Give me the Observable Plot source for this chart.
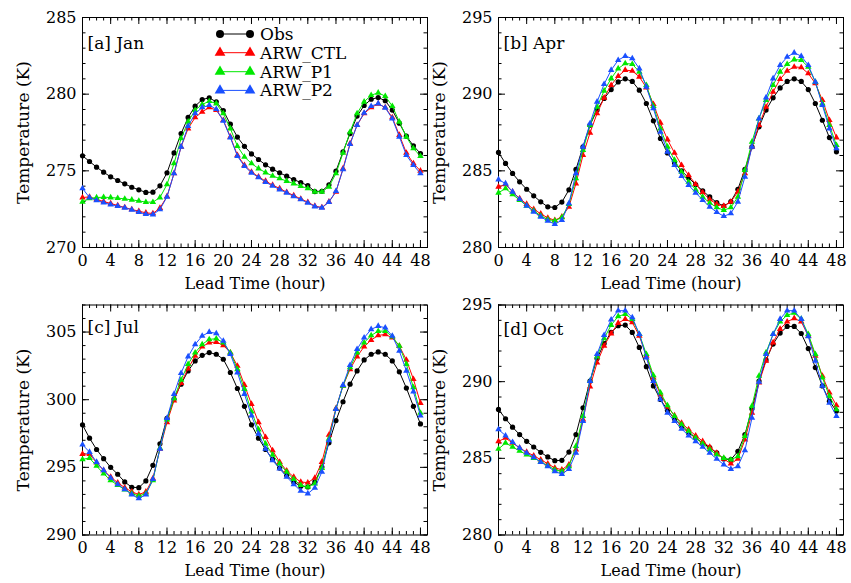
<!DOCTYPE html>
<html><head><meta charset="utf-8">
<script src="https://cdn.jsdelivr.net/npm/d3@7"></script>
<script src="https://cdn.jsdelivr.net/npm/@observablehq/plot@0.6"></script>
<style>
body{margin:0;background:#fff}
#wrap{position:relative;width:851px;height:583px;font-family:"DejaVu Serif",serif;overflow:hidden}
.panel{position:absolute}
</style>
</head><body><div id="wrap"></div>
<script>
const hours = [0,1,2,3,4,5,6,7,8,9,10,11,12,13,14,15,16,17,18,19,20,21,22,23,24,25,26,27,28,29,30,31,32,33,34,35,36,37,38,39,40,41,42,43,44,45,46,47,48];
const xMajor = [0,4,8,12,16,20,24,28,32,36,40,44,48];
const seriesNames = ["Obs","ARW_CTL","ARW_P1","ARW_P2"];
const seriesColors = ["#000000","#ff0000","#00e800","#1a50ff"];

// [a] Jan
const janObs = [275.98,275.61,275.24,274.91,274.61,274.37,274.15,273.93,273.76,273.59,273.61,274.02,274.87,276.17,277.43,278.48,279.22,279.65,279.76,279.5,278.93,278.04,277.2,276.6,276.1,275.74,275.39,275.11,274.87,274.65,274.43,274.24,274.04,273.65,273.67,274.09,274.98,276.24,277.43,278.57,279.26,279.67,279.78,279.57,278.96,278.11,277.26,276.63,276.13];
const janCTL = [273.26,273.3,273.13,273.0,272.87,272.74,272.61,272.48,272.37,272.26,272.22,272.57,273.33,274.83,276.57,277.76,278.48,278.85,279.13,278.96,278.3,277.22,276.02,275.37,274.93,274.61,274.33,274.07,273.85,273.61,273.39,273.17,272.96,272.7,272.61,272.98,273.63,275.15,276.78,277.98,278.74,279.13,279.37,279.13,278.48,277.33,276.17,275.48,275.0];
const janP1 = [272.98,273.2,273.26,273.28,273.26,273.22,273.17,273.11,273.04,272.96,272.96,273.26,274.11,275.48,277.11,278.2,278.96,279.33,279.54,279.39,278.74,277.76,276.61,275.91,275.48,275.15,274.89,274.67,274.5,274.33,274.17,274.0,273.85,273.63,273.63,273.96,274.83,276.17,277.54,278.74,279.5,279.93,280.09,279.87,279.22,278.2,277.22,276.46,275.96];
const janP2 = [273.85,273.26,273.07,272.93,272.8,272.7,272.59,272.46,272.3,272.17,272.15,272.48,273.3,274.83,276.57,277.91,278.74,279.13,279.28,279.02,278.26,277.17,275.96,275.3,274.87,274.57,274.26,274.02,273.78,273.57,273.33,273.13,272.91,272.67,272.59,272.96,273.67,275.09,276.74,277.98,278.78,279.22,279.39,279.11,278.41,277.22,276.02,275.37,274.83];

// [b] Apr
const aprObs = [286.2,285.48,284.83,284.28,283.8,283.37,282.98,282.65,282.61,282.96,283.76,285.09,286.57,287.98,288.96,289.72,290.3,290.8,291.0,290.83,290.26,289.39,288.26,287.11,286.17,285.52,285.0,284.54,284.11,283.7,283.3,282.93,282.7,283.0,283.8,285.09,286.57,287.87,288.96,289.76,290.41,290.83,291.0,290.83,290.3,289.39,288.3,287.17,286.24];
const aprCTL = [283.96,284.11,283.63,283.2,282.83,282.5,282.2,281.93,281.78,282.0,282.65,284.17,286.02,287.48,288.74,289.76,290.59,291.17,291.57,291.52,291.13,290.43,289.35,288.13,287.04,286.17,285.37,284.72,284.13,283.59,283.13,282.83,282.7,282.98,283.63,284.83,286.57,287.98,289.17,290.15,290.98,291.52,291.78,291.74,291.35,290.7,289.61,288.3,287.17];
const aprP1 = [283.57,283.85,283.46,283.09,282.72,282.39,282.07,281.83,281.74,281.96,282.83,284.5,286.35,287.98,289.17,290.22,291.02,291.67,292.0,291.96,291.46,290.59,289.22,287.76,286.57,285.7,284.93,284.28,283.78,283.3,282.91,282.61,282.43,282.61,283.3,285.04,286.89,288.41,289.61,290.59,291.46,291.96,292.26,292.22,291.78,290.8,289.39,287.98,286.67];
const aprP2 = [284.43,284.17,283.63,283.15,282.72,282.33,282.0,281.74,281.52,281.78,282.87,284.83,286.57,288.09,289.5,290.65,291.57,292.22,292.48,292.33,291.67,290.48,289.07,287.54,286.24,285.37,284.65,284.07,283.57,283.09,282.65,282.3,282.04,282.22,282.98,284.61,286.57,288.41,289.78,291.02,291.89,292.43,292.7,292.48,291.89,290.8,289.28,287.76,286.46];

// [c] Jul
const julObs = [298.14,297.16,296.32,295.64,295.0,294.49,293.92,293.53,293.5,294.0,295.15,296.74,298.63,300.05,301.15,302.13,302.87,303.28,303.48,303.36,302.99,302.01,300.83,299.51,298.14,297.16,296.32,295.59,294.95,294.41,293.92,293.6,293.55,293.92,295.02,296.81,298.46,299.85,301.15,302.13,302.94,303.36,303.53,303.36,302.87,302.06,300.86,299.51,298.21];
const julCTL = [295.98,295.98,295.34,294.78,294.29,293.87,293.5,293.19,292.99,293.19,294.17,296.37,298.33,299.93,301.23,302.3,303.24,303.92,304.22,304.26,304.02,303.48,302.5,301.08,299.68,298.33,297.23,296.25,295.39,294.75,294.29,293.92,293.87,294.22,295.39,297.4,299.36,301.03,302.25,303.19,303.92,304.41,304.75,304.83,304.58,303.97,302.94,301.52,299.75];
const julP1 = [295.59,295.69,295.1,294.53,294.04,293.68,293.36,293.06,292.89,293.06,294.04,296.42,298.53,300.1,301.47,302.62,303.48,304.09,304.46,304.51,304.22,303.48,302.25,300.78,299.12,297.79,296.74,295.93,295.27,294.66,294.12,293.68,293.55,293.8,294.95,297.11,299.31,301.03,302.38,303.48,304.22,304.75,305.07,305.07,304.66,303.97,302.62,300.91,299.02];
const julP2 = [296.67,296.13,295.39,294.78,294.22,293.75,293.38,292.99,292.7,292.99,294.12,296.37,298.63,300.42,301.96,303.19,304.09,304.71,305.0,304.9,304.34,303.36,302.01,300.42,298.82,297.48,296.37,295.51,294.9,294.29,293.75,293.26,293.06,293.48,294.66,296.99,299.31,301.08,302.55,303.73,304.58,305.2,305.44,305.32,304.71,303.6,302.13,300.59,298.82];

// [d] Oct
const octObs = [288.19,287.58,287.03,286.55,286.11,285.74,285.39,285.09,284.85,284.87,285.41,286.55,288.3,290.04,291.51,292.49,293.21,293.65,293.69,293.21,292.23,290.98,289.72,288.84,288.14,287.58,287.1,286.66,286.33,286.0,285.7,285.35,284.96,284.91,285.46,286.55,288.23,290.04,291.42,292.45,293.17,293.6,293.6,293.14,292.16,290.92,289.72,288.73,288.08];
const octCTL = [286.11,286.33,286.0,285.68,285.41,285.17,284.91,284.65,284.37,284.26,284.59,285.57,287.53,289.67,291.24,292.34,293.14,293.82,294.08,293.86,292.99,291.68,290.26,289.17,288.36,287.79,287.31,286.88,286.48,286.11,285.74,285.35,284.96,284.65,284.96,286.22,287.97,289.93,291.35,292.55,293.43,293.91,294.13,293.91,292.99,291.68,290.37,289.28,288.45];
const octP1 = [285.61,286.0,285.74,285.48,285.24,285.02,284.78,284.52,284.26,284.15,284.48,285.79,287.75,290.04,291.64,292.82,293.69,294.26,294.41,294.08,293.1,291.79,290.41,289.28,288.45,287.75,287.21,286.77,286.33,285.96,285.57,285.24,285.02,284.91,285.13,286.44,288.41,290.37,291.9,293.1,293.91,294.34,294.48,294.08,293.1,291.79,290.26,289.06,288.19];
const octP2 = [286.88,286.48,286.05,285.68,285.35,285.07,284.76,284.48,284.15,283.97,284.3,285.35,287.42,290.04,291.79,293.03,294.04,294.63,294.63,294.19,293.1,291.57,290.04,288.84,287.97,287.42,286.92,286.48,286.11,285.74,285.35,284.96,284.59,284.3,284.48,285.52,287.64,289.98,291.79,293.1,294.08,294.63,294.63,294.08,292.95,291.35,289.72,288.62,287.75];

const yDomainJan = [270, 285];
const yDomainApr = [280, 295];
const yDomainJul = [290, 307];
const yDomainOct = [280, 295];
const yMajorJan = [270, 275, 280, 285];
const yMajorApr = [280, 285, 290, 295];
const yMajorJul = [290, 295, 300, 305];
const yMajorOct = [280, 285, 290, 295];

const panels = [
  {title: "[a] Jan", series: [janObs, janCTL, janP1, janP2], domain: yDomainJan, major: yMajorJan, left: 0, top: 0, row: 0, col: 0, legend: true, titleDy: 26},
  {title: "[b] Apr", series: [aprObs, aprCTL, aprP1, aprP2], domain: yDomainApr, major: yMajorApr, left: 420, top: 0, row: 0, col: 1, legend: false, titleDy: 26},
  {title: "[c] Jul", series: [julObs, julCTL, julP1, julP2], domain: yDomainJul, major: yMajorJul, left: 0, top: 287, row: 1, col: 0, legend: false, titleDy: 23},
  {title: "[d] Oct", series: [octObs, octCTL, octP1, octP2], domain: yDomainOct, major: yMajorOct, left: 420, top: 287, row: 1, col: 1, legend: false, titleDy: 25}
];

const FRAME_W = 345, FRAME_H = 230;
const FONT = "DejaVu Serif";
const wrap = document.getElementById("wrap");

function intsIn(domain) {
  const out = [];
  for (let v = Math.ceil(domain[0]); v <= Math.floor(domain[1]); v++) out.push(v);
  return out;
}

panels.forEach(p => {
  const marginLeft = p.col === 0 ? 82 : 78;
  const width = marginLeft + FRAME_W + 3;
  const marginTop = p.row === 0 ? 17 : 17.5;
  const height = p.row === 0 ? 290 : 296;
  const marginBottom = height - marginTop - FRAME_H;
  const yMinor = intsIn(p.domain);
  const xMinor = hours;

  const marks = [];
  // ticks (inward on all four sides)
  marks.push(Plot.tickX(xMinor, {x: d => d, insetTop: FRAME_H - 3.5, stroke: "black", strokeWidth: 1}));
  marks.push(Plot.tickX(xMinor, {x: d => d, insetBottom: FRAME_H - 3.5, stroke: "black", strokeWidth: 1}));
  marks.push(Plot.tickX(xMajor, {x: d => d, insetTop: FRAME_H - 7, stroke: "black", strokeWidth: 1}));
  marks.push(Plot.tickX(xMajor, {x: d => d, insetBottom: FRAME_H - 7, stroke: "black", strokeWidth: 1}));
  marks.push(Plot.tickY(yMinor, {y: d => d, insetRight: FRAME_W - 3.5, stroke: "black", strokeWidth: 1}));
  marks.push(Plot.tickY(yMinor, {y: d => d, insetLeft: FRAME_W - 3.5, stroke: "black", strokeWidth: 1}));
  marks.push(Plot.tickY(p.major, {y: d => d, insetRight: FRAME_W - 7, stroke: "black", strokeWidth: 1}));
  marks.push(Plot.tickY(p.major, {y: d => d, insetLeft: FRAME_W - 7, stroke: "black", strokeWidth: 1}));
  marks.push(Plot.axisX(xMajor, {tickSize: 0, tickPadding: 7, fontSize: 16, fontFamily: FONT, fill: "black", label: null}));
  marks.push(Plot.axisY(p.major, {tickSize: 0, tickPadding: 6, fontSize: 16, fontFamily: FONT, fill: "black", label: null}));
  marks.push(Plot.frame({stroke: "black", strokeWidth: 1}));

  // series
  p.series.forEach((arr, si) => {
    const rows = hours.map((h, i) => ({h, v: arr[i]}));
    marks.push(Plot.line(rows, {x: "h", y: "v", stroke: seriesColors[si], strokeWidth: 1}));
    marks.push(Plot.dot(rows, {x: "h", y: "v", fill: seriesColors[si], stroke: "none",
      symbol: si === 0 ? "circle" : "triangle", r: si === 0 ? 2.6 : 2.4}));
  });

  // texts
  marks.push(Plot.text([p.title], {text: d => d, frameAnchor: "top-left", dx: 5, dy: p.titleDy, textAnchor: "start", lineAnchor: "middle", fontSize: 17, fontFamily: FONT, fill: "black"}));
  marks.push(Plot.text(["Temperature (K)"], {text: d => d, frameAnchor: "left", rotate: -90, dx: -59, textAnchor: "middle", lineAnchor: "middle", fontSize: 17, fontFamily: FONT, fill: "black"}));
  marks.push(Plot.text(["Lead Time (hour)"], {text: d => d, frameAnchor: "bottom", dy: 36, textAnchor: "middle", lineAnchor: "middle", fontSize: 16, fontFamily: FONT, fill: "black"}));

  const chart = Plot.plot({
    width, height, marginLeft, marginRight: 3, marginTop, marginBottom,
    x: {domain: [0, 49], axis: null},
    y: {domain: p.domain, axis: null},
    style: {fontFamily: FONT, background: "transparent", overflow: "visible", color: "black"},
    marks
  });
  chart.classList.add("panel");
  chart.style.left = p.left + "px";
  chart.style.top = p.top + "px";
  chart.style.position = "absolute";

  if (p.legend) {
    const svg = d3.select(chart);
    const g = svg.append("g").attr("font-family", FONT).attr("font-size", 17).attr("text-anchor", "start");
    const rowsY = [34, 52.7, 71.7, 90.4];
    seriesNames.forEach((name, i) => {
      const y = rowsY[i];
      const x1 = marginLeft + 138, x2 = marginLeft + 168;
      g.append("line").attr("x1", x1).attr("x2", x2).attr("y1", y).attr("y2", y)
        .attr("stroke", seriesColors[i]).attr("stroke-width", 1);
      [x1, x2].forEach(x => {
        if (i === 0) {
          g.append("circle").attr("cx", x).attr("cy", y).attr("r", 4).attr("fill", seriesColors[i]);
        } else {
          g.append("path").attr("d", d3.symbol(d3.symbolTriangle, 50)()).attr("transform", `translate(${x},${y})`).attr("fill", seriesColors[i]);
        }
      });
      g.append("text").attr("x", marginLeft + 178).attr("y", y).attr("dy", "0.35em")
        .attr("text-anchor", "start").attr("fill", "black").text(name);
    });
  }
  wrap.appendChild(chart);
});
</script>
</body></html>
